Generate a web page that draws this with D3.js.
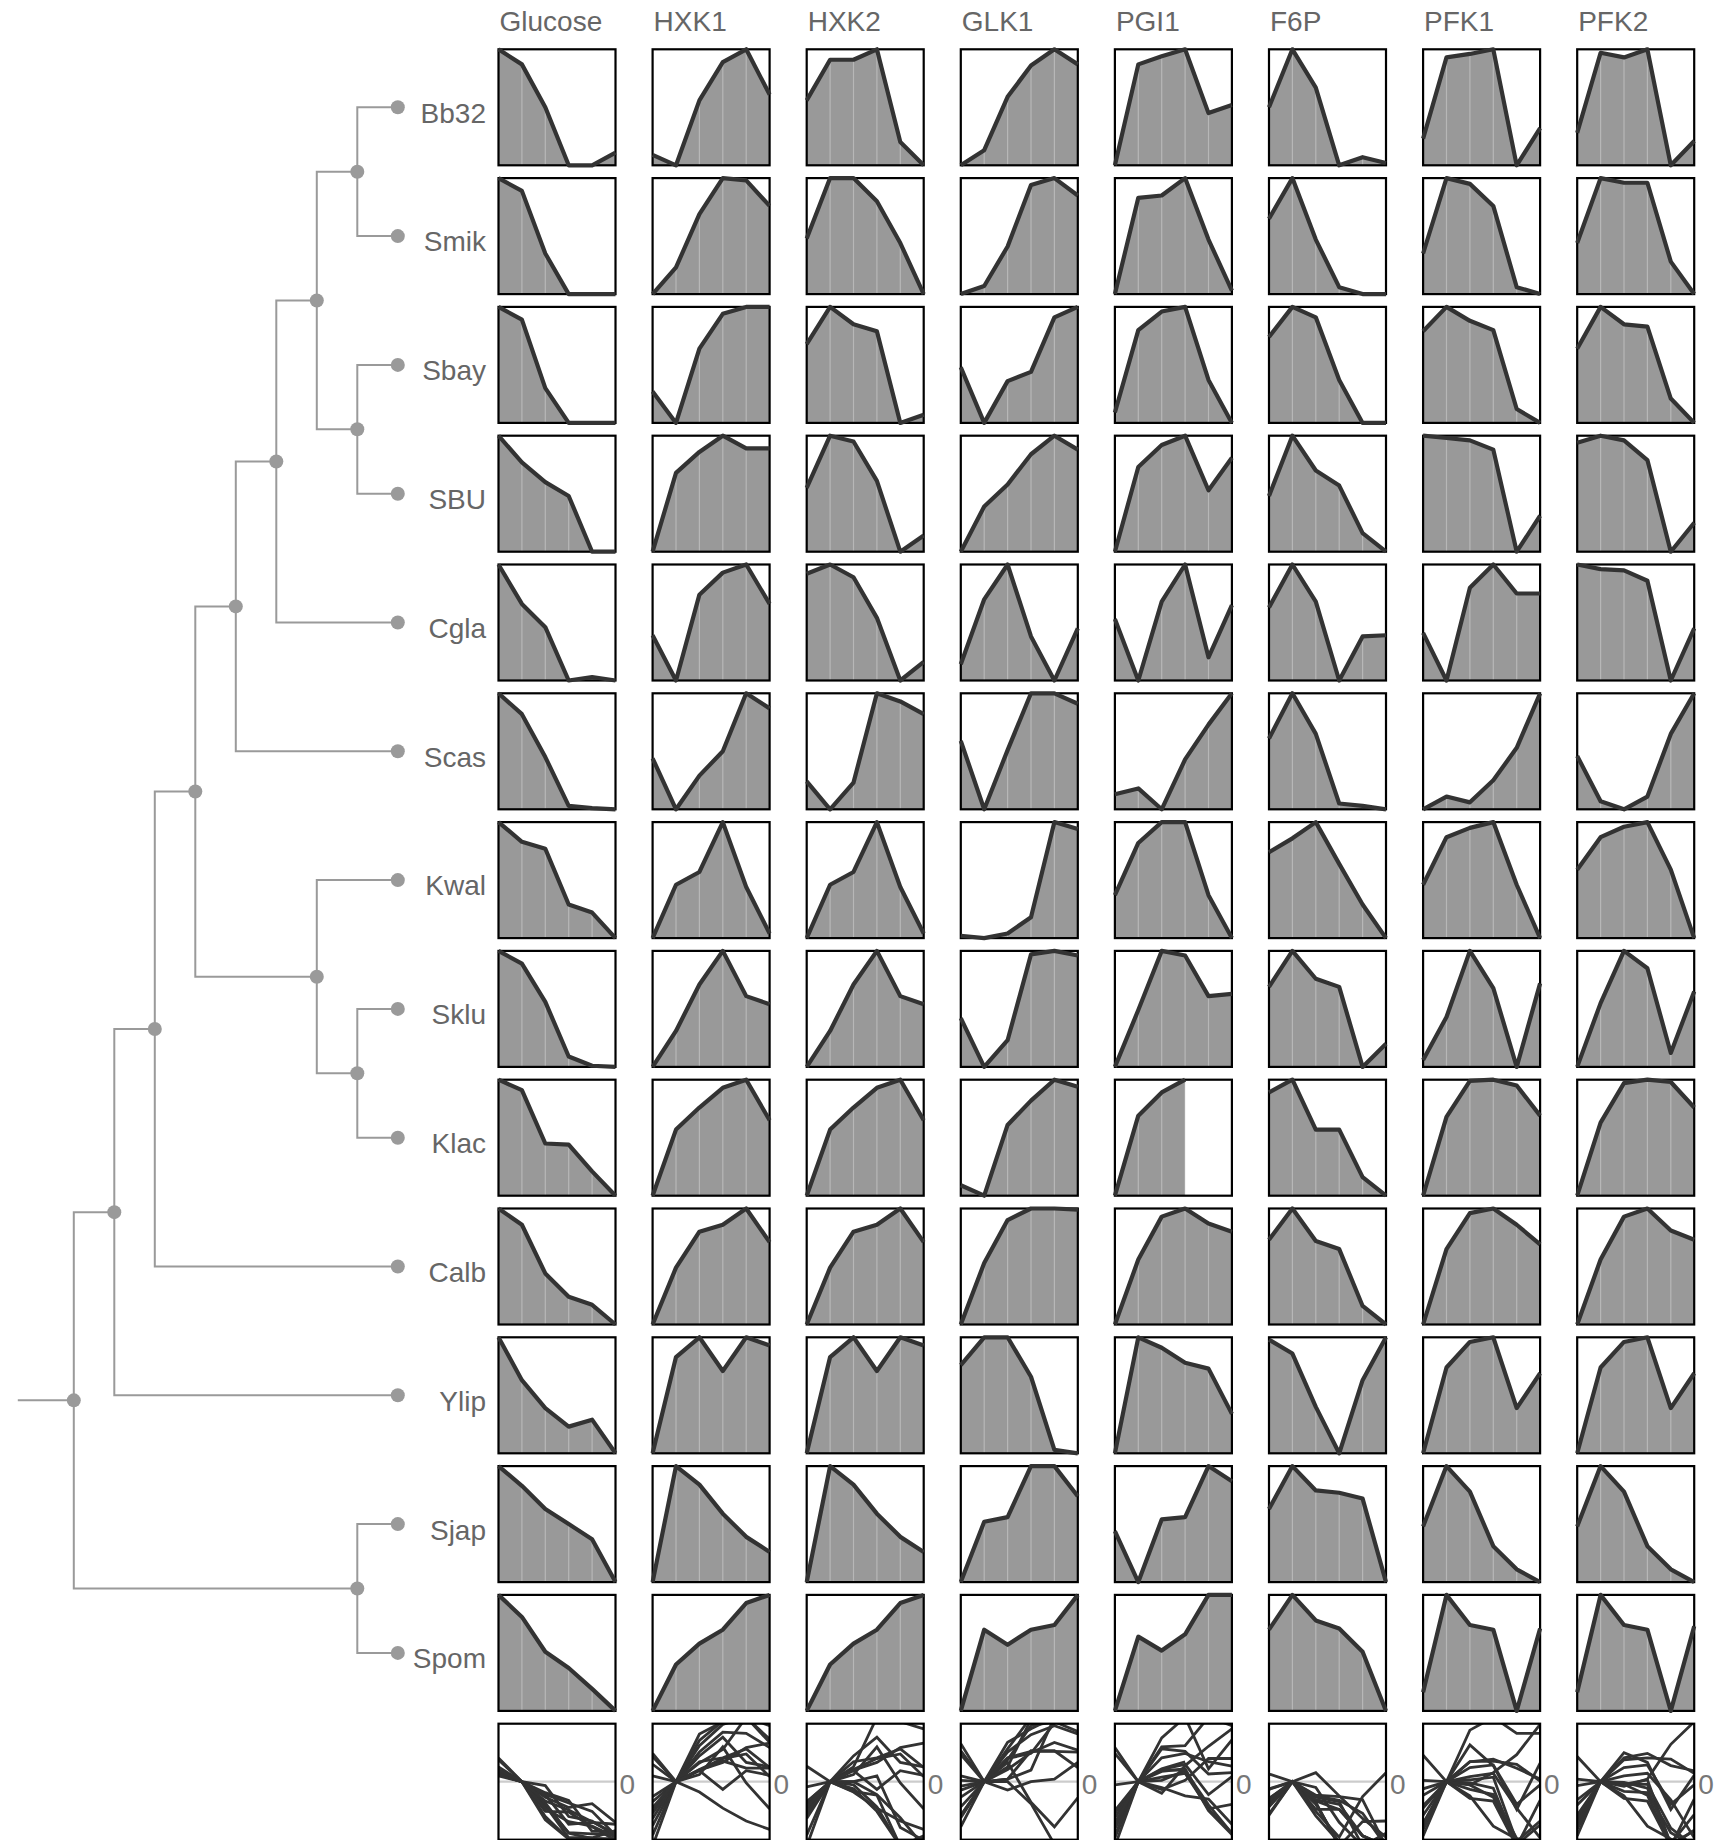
<!DOCTYPE html>
<html>
<head>
<meta charset="utf-8">
<script src="https://cdn.jsdelivr.net/npm/d3@7"></script>
<style>
  body { margin: 0; background: #fff; }
  text { font-family: "Liberation Sans", Arial, sans-serif; }
</style>
</head>
<body>
<div id="chart"></div>
<script>
const species = ["Bb32", "Smik", "Sbay", "SBU", "Cgla", "Scas", "Kwal", "Sklu", "Klac", "Calb", "Ylip", "Sjap", "Spom"];
const genes = ["Glucose", "HXK1", "HXK2", "GLK1", "PGI1", "F6P", "PFK1", "PFK2"];
const timepoints = [0, 1, 2, 3, 4, 5];

// one row per species (same order as species), 6 timepoints, scaled 0-1 per panel
const glucose = [
    [1, 0.87, 0.5, 0, 0, 0.11],
    [1, 0.89, 0.35, 0, 0, 0],
    [1, 0.89, 0.3, 0, 0, 0],
    [1, 0.77, 0.6, 0.48, 0, 0],
    [1, 0.66, 0.46, 0, 0.03, 0],
    [1, 0.82, 0.45, 0.03, 0.01, 0],
    [1, 0.83, 0.77, 0.29, 0.22, 0],
    [1, 0.89, 0.56, 0.09, 0.01, 0],
    [1, 0.91, 0.45, 0.44, 0.21, 0],
    [1, 0.86, 0.44, 0.24, 0.17, 0],
    [1, 0.63, 0.39, 0.23, 0.29, 0],
    [1, 0.83, 0.63, 0.5, 0.37, 0],
    [1, 0.81, 0.51, 0.37, 0.19, 0]
];
const hxk1 = [
    [0.09, 0, 0.56, 0.89, 1, 0.61],
    [0, 0.23, 0.69, 1, 0.98, 0.76],
    [0.27, 0, 0.64, 0.94, 1, 1],
    [0, 0.68, 0.86, 1, 0.89, 0.89],
    [0.39, 0, 0.74, 0.93, 1, 0.66],
    [0.44, 0, 0.29, 0.5, 1, 0.87],
    [0, 0.46, 0.57, 1, 0.44, 0.04],
    [0, 0.31, 0.71, 1, 0.61, 0.54],
    [0, 0.57, 0.76, 0.93, 1, 0.65],
    [0, 0.49, 0.8, 0.86, 1, 0.71],
    [0, 0.83, 1, 0.71, 1, 0.93],
    [0, 1, 0.84, 0.59, 0.39, 0.26],
    [0, 0.4, 0.58, 0.7, 0.93, 1]
];
const hxk2 = [
    [0.56, 0.91, 0.91, 1, 0.2, 0],
    [0.48, 1, 1, 0.8, 0.44, 0],
    [0.68, 1, 0.85, 0.79, 0, 0.07],
    [0.55, 1, 0.95, 0.61, 0, 0.14],
    [0.92, 1, 0.89, 0.54, 0, 0.16],
    [0.24, 0, 0.23, 1, 0.93, 0.82],
    [0, 0.46, 0.57, 1, 0.44, 0.04],
    [0, 0.31, 0.71, 1, 0.61, 0.54],
    [0, 0.57, 0.76, 0.93, 1, 0.65],
    [0, 0.49, 0.8, 0.86, 1, 0.71],
    [0, 0.83, 1, 0.71, 1, 0.93],
    [0, 1, 0.84, 0.59, 0.39, 0.26],
    [0, 0.4, 0.58, 0.7, 0.93, 1]
];
const glk1 = [
    [0, 0.13, 0.59, 0.86, 1, 0.87],
    [0, 0.07, 0.41, 0.94, 1, 0.85],
    [0.48, 0, 0.36, 0.44, 0.91, 1],
    [0, 0.39, 0.58, 0.84, 1, 0.88],
    [0.14, 0.7, 1, 0.38, 0, 0.45],
    [0.59, 0, 0.51, 1, 1, 0.91],
    [0.02, 0, 0.04, 0.18, 1, 0.94],
    [0.42, 0, 0.23, 0.97, 1, 0.96],
    [0.09, 0, 0.61, 0.82, 1, 0.94],
    [0, 0.53, 0.9, 1, 1, 0.99],
    [0.76, 1, 1, 0.66, 0.03, 0],
    [0, 0.52, 0.56, 1, 1, 0.74],
    [0, 0.7, 0.57, 0.7, 0.74, 1]
];
const pgi1 = [
    [0, 0.87, 0.94, 1, 0.45, 0.52],
    [0, 0.83, 0.85, 1, 0.47, 0.03],
    [0.09, 0.8, 0.96, 1, 0.37, 0],
    [0, 0.73, 0.92, 1, 0.53, 0.81],
    [0.53, 0, 0.68, 1, 0.2, 0.65],
    [0.13, 0.18, 0, 0.43, 0.73, 1],
    [0.37, 0.82, 1, 1, 0.37, 0],
    [0, 0.49, 1, 0.96, 0.61, 0.63],
    [0, 0.69, 0.89, 1, null, null],
    [0, 0.56, 0.93, 1, 0.87, 0.8],
    [0, 1, 0.91, 0.78, 0.73, 0.34],
    [0.44, 0, 0.54, 0.56, 1, 0.87],
    [0, 0.64, 0.52, 0.66, 1, 1]
];
const f6p = [
    [0.5, 1, 0.67, 0, 0.07, 0.02],
    [0.65, 1, 0.47, 0.06, 0, 0],
    [0.74, 1, 0.91, 0.37, 0, 0],
    [0.48, 1, 0.7, 0.57, 0.16, 0],
    [0.63, 1, 0.68, 0, 0.38, 0.39],
    [0.61, 1, 0.65, 0.05, 0.03, 0],
    [0.74, 0.86, 1, 0.64, 0.29, 0],
    [0.69, 1, 0.76, 0.69, 0, 0.2],
    [0.89, 1, 0.57, 0.57, 0.16, 0],
    [0.73, 1, 0.72, 0.65, 0.16, 0],
    [0.98, 0.86, 0.4, 0, 0.63, 1],
    [0.63, 1, 0.79, 0.77, 0.72, 0],
    [0.7, 1, 0.78, 0.71, 0.51, 0]
];
const pfk1 = [
    [0.23, 0.93, 0.96, 1, 0, 0.32],
    [0.35, 1, 0.95, 0.76, 0.06, 0],
    [0.79, 1, 0.88, 0.8, 0.12, 0],
    [1, 0.98, 0.96, 0.88, 0, 0.31],
    [0.41, 0, 0.8, 1, 0.75, 0.75],
    [0, 0.11, 0.06, 0.25, 0.53, 1],
    [0.46, 0.87, 0.95, 1, 0.46, 0],
    [0.06, 0.43, 1, 0.68, 0, 0.72],
    [0, 0.68, 0.99, 1, 0.95, 0.69],
    [0, 0.65, 0.96, 1, 0.86, 0.69],
    [0, 0.74, 0.96, 1, 0.39, 0.69],
    [0.48, 1, 0.78, 0.31, 0.11, 0],
    [0.16, 1, 0.74, 0.7, 0, 0.71]
];
const pfk2 = [
    [0.28, 0.97, 0.93, 1, 0, 0.21],
    [0.44, 1, 0.96, 0.96, 0.28, 0],
    [0.64, 1, 0.85, 0.83, 0.21, 0],
    [0.94, 1, 0.96, 0.79, 0, 0.25],
    [1, 0.96, 0.95, 0.86, 0, 0.45],
    [0.46, 0.07, 0, 0.11, 0.65, 1],
    [0.59, 0.87, 0.96, 1, 0.59, 0],
    [0, 0.55, 1, 0.85, 0.12, 0.65],
    [0, 0.63, 0.97, 1, 0.98, 0.76],
    [0, 0.56, 0.93, 1, 0.81, 0.73],
    [0, 0.74, 0.96, 1, 0.39, 0.69],
    [0.48, 1, 0.78, 0.31, 0.11, 0],
    [0.16, 1, 0.74, 0.7, 0, 0.73]
];

// cladogram of the species (leaves only named)
const treeData = {children: [
    {children: [
        {children: [
            {children: [
                {children: [
                    {children: [
                        {children: [
                            {children: [{name: "Bb32"}, {name: "Smik"}]},
                            {children: [{name: "Sbay"}, {name: "SBU"}]}
                        ]},
                        {name: "Cgla"}
                    ]},
                    {name: "Scas"}
                ]},
                {children: [{name: "Kwal"}, {children: [{name: "Sklu"}, {name: "Klac"}]}]}
            ]},
            {name: "Calb"}
        ]},
        {name: "Ylip"}
    ]},
    {children: [{name: "Sjap"}, {name: "Spom"}]}
]};

const geneData = {Glucose: glucose, HXK1: hxk1, HXK2: hxk2, GLK1: glk1, PGI1: pgi1, F6P: f6p, PFK1: pfk1, PFK2: pfk2};

const width = 1723, height = 1840;
const textGray = "#666666", treeGray = "#9a9a9a";

const svg = d3.select("#chart").append("svg")
    .attr("width", width)
    .attr("height", height);

// grid of small panels
const colBand = d3.scaleBand().domain(genes).range([498.5, 1694.2]).paddingInner(0.2407).paddingOuter(0);
const rowBand = d3.scaleBand().domain([...species, "summary"]).range([49.3, 1839.7]).paddingInner(0.0994).paddingOuter(0);
const pw = colBand.bandwidth(), ph = rowBand.bandwidth();

const x = d3.scaleLinear().domain(d3.extent(timepoints)).range([0, pw]);
const y = d3.scaleLinear().domain([0, 1]).range([ph, 0]);
const ySum = d3.scaleLinear().domain([-0.9, 0.9]).range([ph, 0]);

const area = d3.area()
    .defined(d => d != null)
    .x((d, i) => x(timepoints[i]))
    .y0(ph)
    .y1(d => y(d));
const line = d3.line()
    .defined(d => d != null)
    .x((d, i) => x(timepoints[i]))
    .y(d => y(d));
const sumLine = d3.line()
    .defined(d => d != null)
    .x((d, i) => x(timepoints[i]))
    .y(d => ySum(d));

// column titles
svg.append("g").selectAll("text")
    .data(genes)
    .join("text")
    .attr("x", d => colBand(d) + 1)
    .attr("y", rowBand.range()[0] - 18)
    .attr("fill", textGray)
    .attr("font-size", 28)
    .text(d => d);

genes.forEach(gene => {
    const rows = geneData[gene];

    species.forEach((sp, si) => {
        const vals = rows[si];
        const g = svg.append("g")
            .attr("transform", `translate(${colBand(gene)},${rowBand(sp)})`);

        g.append("path")
            .attr("d", area(vals))
            .attr("fill", "#999999");

        // faint light lines at each timepoint
        g.append("g").selectAll("line")
            .data(timepoints.slice(1, -1))
            .join("line")
            .attr("x1", d => x(d)).attr("x2", d => x(d))
            .attr("y1", 0).attr("y2", ph)
            .attr("stroke", "#ffffff")
            .attr("stroke-opacity", 0.3)
            .attr("stroke-width", 1.2);

        g.append("rect")
            .attr("width", pw).attr("height", ph)
            .attr("fill", "none")
            .attr("stroke", "#000")
            .attr("stroke-width", 2.2);

        g.append("path")
            .attr("d", line(vals))
            .attr("fill", "none")
            .attr("stroke", "#333333")
            .attr("stroke-width", 4.2)
            .attr("stroke-linejoin", "round");
    });

    // summary panel: every species relative to the second timepoint
    const gs = svg.append("g")
        .attr("transform", `translate(${colBand(gene)},${rowBand("summary")})`);
    const clipId = "clip-" + gene;
    gs.append("clipPath").attr("id", clipId)
        .append("rect").attr("width", pw).attr("height", ph);

    gs.append("line")
        .attr("x1", 0).attr("x2", pw)
        .attr("y1", ySum(0)).attr("y2", ySum(0))
        .attr("stroke", "#cccccc")
        .attr("stroke-width", 2.2);

    gs.append("g")
        .attr("clip-path", `url(#${clipId})`)
        .selectAll("path")
        .data(rows.map(r => r.map(v => v == null ? null : v - r[1])))
        .join("path")
        .attr("d", d => sumLine(d))
        .attr("fill", "none")
        .attr("stroke", "#333333")
        .attr("stroke-width", 2.8);

    gs.append("rect")
        .attr("width", pw).attr("height", ph)
        .attr("fill", "none")
        .attr("stroke", "#000")
        .attr("stroke-width", 2.2);

    gs.append("text")
        .attr("x", pw + 4)
        .attr("y", ySum(0))
        .attr("dy", "0.45em")
        .attr("fill", "#777777")
        .attr("font-size", 28)
        .text("0");
});

// species labels
const rowCenter = name => rowBand(name) + ph / 2;
svg.append("g").selectAll("text")
    .data(species)
    .join("text")
    .attr("x", 486)
    .attr("y", d => rowCenter(d))
    .attr("dy", "0.55em")
    .attr("text-anchor", "end")
    .attr("fill", textGray)
    .attr("font-size", 28)
    .text(d => d);

// tree
const root = d3.hierarchy(treeData);
const treeX = d3.scaleLinear().domain([0, root.height]).range([397.8, 73.8]);
root.eachAfter(n => {
    n.py = n.children ? d3.mean(n.children, c => c.py) : rowCenter(n.data.name);
    n.px = treeX(n.height);
});

const tree = svg.append("g");
tree.selectAll("path.link")
    .data(root.descendants().filter(n => n.parent))
    .join("path")
    .attr("class", "link")
    .attr("d", n => `M${n.parent.px},${n.parent.py}V${n.py}H${n.px}`)
    .attr("fill", "none")
    .attr("stroke", treeGray)
    .attr("stroke-width", 2);

tree.append("path")
    .attr("d", `M${root.px - 56},${root.py}H${root.px}`)
    .attr("stroke", treeGray)
    .attr("stroke-width", 2);

tree.selectAll("circle")
    .data(root.descendants())
    .join("circle")
    .attr("cx", n => n.px)
    .attr("cy", n => n.py)
    .attr("r", 7)
    .attr("fill", treeGray);
</script>
</body>
</html>
